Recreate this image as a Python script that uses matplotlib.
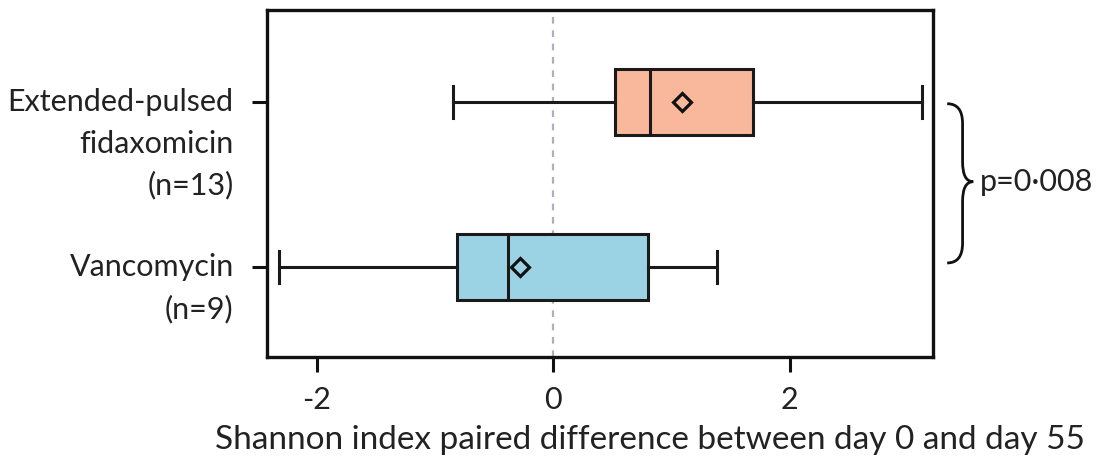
import matplotlib.pyplot as plt
from matplotlib.path import Path
from matplotlib.patches import PathPatch
import matplotlib.transforms as mtransforms

# Box plot summary statistics
groups = ["Vancomycin\n(n=9)", "Extended-pulsed\nfidaxomicin\n(n=13)"]
positions = [0, 1]
whislo = [-2.32, -0.85]
q1 = [-0.81, 0.52]
med = [-0.38, 0.82]
mean = [-0.28, 1.09]
q3 = [0.80, 1.69]
whishi = [1.38, 3.12]
colors = ["#9BD3E5", "#F9B89B"]
p_text = "p=0\u00b7008"
xticks = [-2, 0, 2]
xlabel = "Shannon index paired difference between day 0 and day 55"

plt.rcParams['font.family'] = ['Lato', 'DejaVu Sans']
FS = 22

fig = plt.figure(figsize=(11.01, 4.62), dpi=100)
ax = fig.add_axes([267 / 1101, 105 / 462, 666 / 1101, 347 / 462])

stats = []
for i in range(len(groups)):
    stats.append(dict(whislo=whislo[i], q1=q1[i], med=med[i], q3=q3[i],
                      whishi=whishi[i], mean=mean[i], fliers=[]))

lw = 2.2
bp = ax.bxp(stats, positions=positions, vert=False, widths=0.405,
            capwidths=0.19, patch_artist=True, showmeans=True,
            showfliers=False,
            boxprops=dict(linewidth=lw, edgecolor='#1a1a1a'),
            whiskerprops=dict(linewidth=lw, color='#1a1a1a'),
            capprops=dict(linewidth=lw, color='#1a1a1a'),
            medianprops=dict(linewidth=lw, color='#1a1a1a'),
            meanprops=dict(marker='D', markersize=9, markerfacecolor='none',
                           markeredgecolor='#111111', markeredgewidth=2.3))
for patch, c in zip(bp['boxes'], colors):
    patch.set_facecolor(c)

ax.axvline(0, color='#A9B2BC', linestyle=(0, (3, 3)), linewidth=1.6, zorder=0)

ax.set_xlim(-2.42, 3.21)
ax.set_ylim(-0.545, 1.558)
ax.set_xticks(xticks)
ax.set_xticklabels([str(t) for t in xticks], fontsize=FS, color='#222222')
ax.set_yticks(positions)
ax.set_yticklabels([])
ax.tick_params(axis='both', direction='out', length=11, width=2.2, color='#111111')
ax.tick_params(axis='x', pad=10)
for s in ax.spines.values():
    s.set_linewidth(2.4)
    s.set_color('#111111')
ax.set_xlabel(xlabel, fontsize=24, color='#222222')
ax.xaxis.set_label_coords(0.575, -0.195)

# Multi-line group labels, first line level with the tick
trans = mtransforms.blended_transform_factory(ax.transAxes, ax.transData)
for pos, lab in zip(positions, groups):
    for j, line in enumerate(lab.split("\n")):
        ax.annotate(line, xy=(0, pos), xycoords=trans, xytext=(-24, -j * 30),
                    textcoords='offset points', ha='right', va='center',
                    fontsize=FS, color='#222222')

# Curly brace joining the two groups, with p value
x0, x1, x2 = 3.33, 3.46, 3.55
ytop, ybot = positions[1] - 0.01, positions[0] + 0.025
ymid = (ytop + ybot) / 2 + 0.01
r = 0.12
verts = [(x0, ytop), (x1, ytop), (x1, ytop - r),
         (x1, ymid + r),
         (x1, ymid), (x2, ymid),
         (x1, ymid), (x1, ymid - r),
         (x1, ybot + r),
         (x1, ybot), (x0, ybot)]
codes = [Path.MOVETO, Path.CURVE3, Path.CURVE3,
         Path.LINETO,
         Path.CURVE3, Path.CURVE3,
         Path.CURVE3, Path.CURVE3,
         Path.LINETO,
         Path.CURVE3, Path.CURVE3]
brace = PathPatch(Path(verts, codes), facecolor='none', edgecolor='#111111',
                  linewidth=2.0, clip_on=False)
ax.add_patch(brace)
ax.text(x2 + 0.06, ymid, p_text, ha='left', va='center', fontsize=FS,
        color='#222222', clip_on=False)

fig.savefig("out.png", dpi=100)
